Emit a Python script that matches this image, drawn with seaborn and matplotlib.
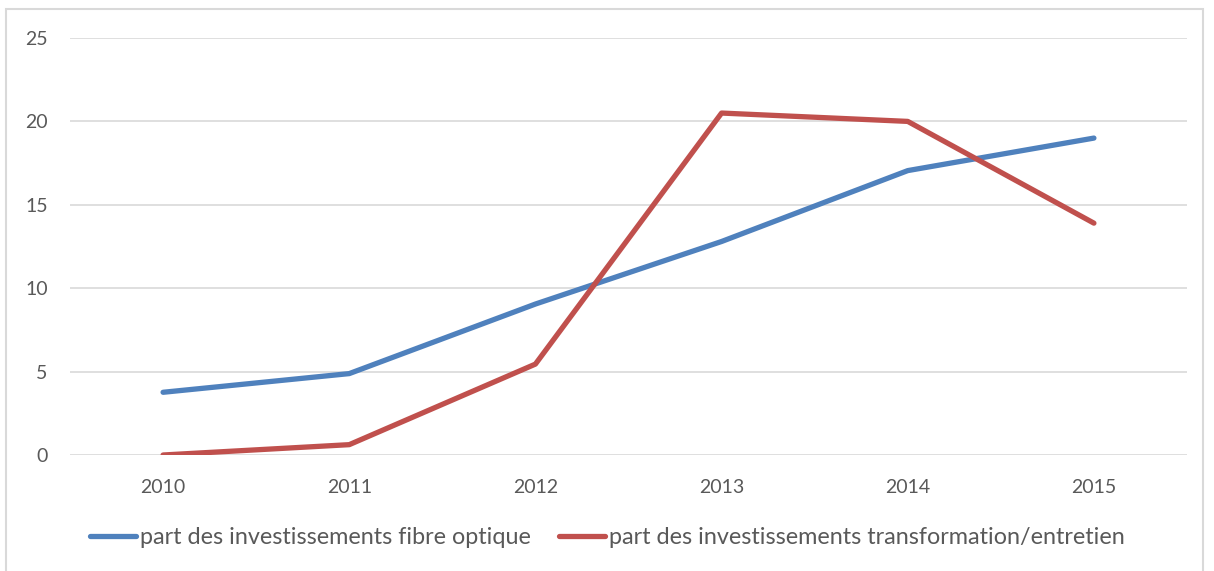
import matplotlib
matplotlib.use("Agg")
import matplotlib.pyplot as plt
import seaborn as sns
import pandas as pd
from matplotlib.patches import Rectangle
from matplotlib.lines import Line2D

years = [2010, 2011, 2012, 2013, 2014, 2015]
fibre = [3.76, 4.88, 9.05, 12.8, 17.05, 19.0]
transfo = [0.0, 0.62, 5.45, 20.5, 20.0, 13.9]
series_names = ["part des investissements fibre optique",
                "part des investissements transformation/entretien"]
yticks = [0, 5, 10, 15, 20, 25]

df = pd.DataFrame({
    "année": years * 2,
    "valeur": fibre + transfo,
    "série": [series_names[0]] * len(years) + [series_names[1]] * len(years),
})

sns.set_theme(style="white")
plt.rcParams["font.family"] = ["Lato", "DejaVu Sans"]
text_color = "#595959"
grid_color = "#d9d9d9"
colors = ["#4F81BD", "#C0504D"]

fig = plt.figure(figsize=(12.14, 5.71), dpi=100)
ax = fig.add_axes([70 / 1214, 1 - 455 / 571, (1187 - 70) / 1214, (455 - 38) / 571])

sns.lineplot(data=df, x="année", y="valeur", hue="série",
             palette=colors, linewidth=3.8, ax=ax,
             legend=False, solid_capstyle="round")

ax.set_xlim(2009.5, 2015.5)
ax.set_ylim(0, 25)
ax.set_xticks(years)
ax.set_xticklabels([str(y) for y in years])
ax.set_yticks(yticks)
ax.set_yticklabels([str(t) for t in yticks])
ax.set_xlabel("")
ax.set_ylabel("")
for s in ax.spines.values():
    s.set_visible(False)
ax.yaxis.grid(True, color=grid_color, linewidth=1.2)
ax.set_axisbelow(True)
ax.tick_params(axis="both", length=0, colors=text_color, labelsize=14)
ax.tick_params(axis="y", pad=16)
ax.tick_params(axis="x", pad=17)

handles = [Line2D([0], [0], color=c, lw=3.8, solid_capstyle="round") for c in colors]
leg = fig.legend(handles, series_names, loc="center", bbox_to_anchor=(0.5, 1 - 538 / 571),
                 ncol=2, frameon=False, fontsize=16.8, handlelength=2.0,
                 handletextpad=0.15, columnspacing=1.2)
for t in leg.get_texts():
    t.set_color(text_color)

fig.patches.append(Rectangle((6 / 1214, -0.05), (1203 - 6) / 1214, 1.05 - 9 / 571,
                             transform=fig.transFigure, fill=False,
                             edgecolor=grid_color, linewidth=1.5))

fig.savefig("out.png", dpi=100)
